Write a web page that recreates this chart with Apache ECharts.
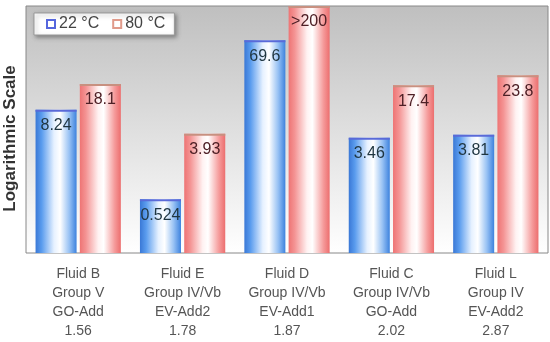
<!DOCTYPE html>
<html>
<head>
<meta charset="utf-8">
<script src="https://cdn.jsdelivr.net/npm/echarts@6/dist/echarts.min.js"></script>
<style>html,body{margin:0;padding:0;background:#fff}#c{width:550px;height:342px}</style>
</head>
<body>
<div id="c"></div>
<script>
var fluids = ['Fluid B', 'Fluid E', 'Fluid D', 'Fluid C', 'Fluid L'];
var groups = ['Group V', 'Group IV/Vb', 'Group IV/Vb', 'Group IV/Vb', 'Group IV'];
var additives = ['GO-Add', 'EV-Add2', 'EV-Add1', 'GO-Add', 'EV-Add2'];
var ratios = ['1.56', '1.78', '1.87', '2.02', '2.87'];
var values22 = [8.24, 0.524, 69.6, 3.46, 3.81];
var labels22 = ['8.24', '0.524', '69.6', '3.46', '3.81'];
var values80 = [18.1, 3.93, 200, 17.4, 23.8];
var labels80 = ['18.1', '3.93', '>200', '17.4', '23.8'];
var seriesNames = ['22 °C', '80 °C'];
var axisMin = 0.1, axisMax = 200;

var categories = fluids.map(function (f, i) {
  return [f, groups[i], additives[i], ratios[i]].join('\n');
});

function grad(stops) {
  return new echarts.graphic.LinearGradient(0, 0, 1, 0, stops);
}
var blueStops = [
  {offset: 0, color: '#3a78d6'}, {offset: 0.15, color: '#5a9cee'},
  {offset: 0.45, color: '#e6f1ff'}, {offset: 0.6, color: '#ffffff'},
  {offset: 0.82, color: '#98c2f4'}, {offset: 1, color: '#3d82de'}];
var redStops = [
  {offset: 0, color: '#ee7474'}, {offset: 0.15, color: '#f49494'},
  {offset: 0.45, color: '#fff2f2'}, {offset: 0.58, color: '#ffffff'},
  {offset: 0.85, color: '#f59a9a'}, {offset: 1, color: '#ec6e6e'}];

function makeRender(stops, capColor, labels, labelColor, side) {
  return function (params, api) {
    var idx = params.dataIndex;
    var val = api.value(1);
    var band = api.size([1, 0])[0];
    var bw = band * 0.393;
    var off = band * 0.212 * side;
    var top = api.coord([idx, val]);
    var bot = api.coord([idx, axisMin]);
    var cx = top[0] + off;
    var ty = Math.max(top[1], params.coordSys.y);
    var h = bot[1] - ty;
    return {
      type: 'group',
      children: [
        {type: 'rect', shape: {x: cx - bw / 2, y: ty, width: bw, height: h},
          style: {fill: grad(stops)}},
        {type: 'rect', shape: {x: cx - bw / 2, y: ty, width: bw, height: 2},
          style: {fill: capColor}},
        {type: 'text', x: cx, y: ty + 8,
          style: {text: labels[idx], fill: labelColor, fontSize: 16,
            fontFamily: 'Liberation Sans, Arial, sans-serif',
            align: 'center', verticalAlign: 'top'}}
      ]
    };
  };
}

var chart = echarts.init(document.getElementById('c'), null, {renderer: 'canvas'});
chart.setOption({
  animation: false,
  textStyle: {fontFamily: 'Liberation Sans, Arial, sans-serif'},
  grid: {
    left: 26, right: 2, top: 6, bottom: 89,
    containLabel: false,
    outerBoundsMode: 'none',
    show: true,
    borderColor: '#888888', borderWidth: 1,
    backgroundColor: new echarts.graphic.LinearGradient(0, 0, 0, 1, [
      {offset: 0, color: '#bfbfbf'}, {offset: 1, color: '#ffffff'}])
  },
  legend: {
    left: 34, top: 13,
    padding: [3, 9, 3, 12],
    backgroundColor: '#ffffff',
    borderColor: '#999999', borderWidth: 1,
    shadowColor: 'rgba(0,0,0,0.35)', shadowBlur: 4, shadowOffsetX: 2, shadowOffsetY: 2,
    itemWidth: 8, itemHeight: 8, itemGap: 13,
    icon: 'rect',
    textStyle: {fontSize: 16, color: '#444444', padding: [0, 0, 0, -1]},
    data: [
      {name: seriesNames[0], itemStyle: {color: '#ffffff', borderColor: '#5566dd', borderWidth: 2}},
      {name: seriesNames[1], itemStyle: {color: '#ffffff', borderColor: '#e09a8a', borderWidth: 2}}
    ]
  },
  xAxis: {
    type: 'category',
    data: categories,
    axisLine: {show: false},
    axisTick: {show: false},
    axisLabel: {fontSize: 14, color: '#555555', lineHeight: 19, margin: 12, interval: 0}
  },
  yAxis: {
    type: 'log',
    logBase: 10,
    min: axisMin, max: axisMax,
    name: 'Logarithmic Scale',
    nameLocation: 'middle',
    nameGap: 7,
    nameRotate: 90,
    nameTextStyle: {fontSize: 17, fontWeight: 'bold', color: '#333333', padding: [0, 18, 0, 0]},
    axisLine: {show: false},
    axisTick: {show: false},
    axisLabel: {show: false},
    splitLine: {show: false}
  },
  series: [
    {
      name: seriesNames[0], type: 'custom',
      itemStyle: {color: '#5566dd'},
      encode: {x: 0, y: 1},
      data: values22.map(function (v, i) { return [i, v]; }),
      renderItem: makeRender(blueStops, '#5a6ad8', labels22, '#1f3540', -1)
    },
    {
      name: seriesNames[1], type: 'custom',
      itemStyle: {color: '#e09a8a'},
      encode: {x: 0, y: 1},
      data: values80.map(function (v, i) { return [i, v]; }),
      renderItem: makeRender(redStops, '#c89080', labels80, '#4e2026', 1)
    }
  ]
});
</script>
</body>
</html>
